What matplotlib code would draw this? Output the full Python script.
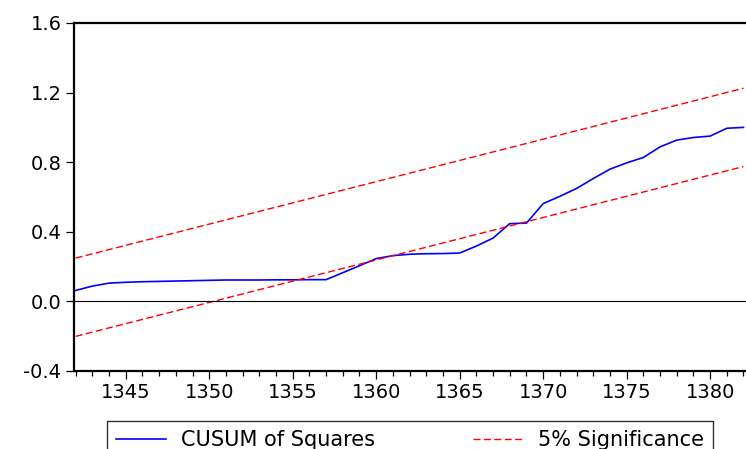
import matplotlib.pyplot as plt
from matplotlib.ticker import MultipleLocator, FormatStrFormatter

# data
years = list(range(1342, 1383))
cusum_sq = [0.063, 0.088, 0.105, 0.110, 0.113, 0.115, 0.117, 0.119, 0.121, 0.123,
            0.123, 0.123, 0.124, 0.124, 0.125, 0.125, 0.165, 0.205, 0.246, 0.263,
            0.271, 0.274, 0.275, 0.278, 0.318, 0.364, 0.447, 0.450, 0.562, 0.604,
            0.649, 0.706, 0.760, 0.796, 0.827, 0.888, 0.927, 0.942, 0.950, 0.995,
            1.000]
bound_years = [1342, 1382]
upper_bound = [0.249, 1.225]
lower_bound = [-0.201, 0.775]

plt.rcParams['font.family'] = ['DejaVu Sans']

fig = plt.figure(figsize=(7.46, 4.49), dpi=100)
ax = fig.add_axes([74 / 746, 1 - 371 / 449, 672 / 746, 348 / 449])

ax.plot(years, cusum_sq, color='#0000ff', lw=1.2, label='CUSUM of Squares')
ax.plot(bound_years, upper_bound, color='#ff0000', lw=1.0,
        linestyle=(0, (5, 2.5)), label='5% Significance')
ax.plot(bound_years, lower_bound, color='#ff0000', lw=1.0,
        linestyle=(0, (5, 2.5)))
ax.axhline(0, color='black', lw=0.8)

ax.set_xlim(1341.9, 1382.15)
ax.set_ylim(-0.4, 1.6)
ax.xaxis.set_major_locator(MultipleLocator(5))
ax.xaxis.set_minor_locator(MultipleLocator(1))
ax.yaxis.set_major_locator(MultipleLocator(0.4))
ax.yaxis.set_major_formatter(FormatStrFormatter('%.1f'))

ax.spines['right'].set_visible(False)
for s in ['left', 'bottom', 'top']:
    ax.spines[s].set_linewidth(1.6)

ax.tick_params(axis='both', which='major', labelsize=14, width=0.9)
ax.tick_params(axis='y', length=6, pad=3)
ax.tick_params(axis='x', which='major', length=5.5, pad=3)
ax.tick_params(axis='x', which='minor', length=3.5, width=0.9)

# legend box sits at the bottom, partly cut off like the original
fig.legend(loc='upper left', bbox_to_anchor=(107 / 746, 0, 606 / 746, 28 / 449),
           mode='expand', ncol=2, fontsize=15, frameon=True, fancybox=False,
           edgecolor='black', borderaxespad=0, borderpad=0.45,
           handlelength=2.4, handletextpad=0.7)
fig.legends[0].get_frame().set_linewidth(1.0)

fig.savefig('out.png', dpi=100)
